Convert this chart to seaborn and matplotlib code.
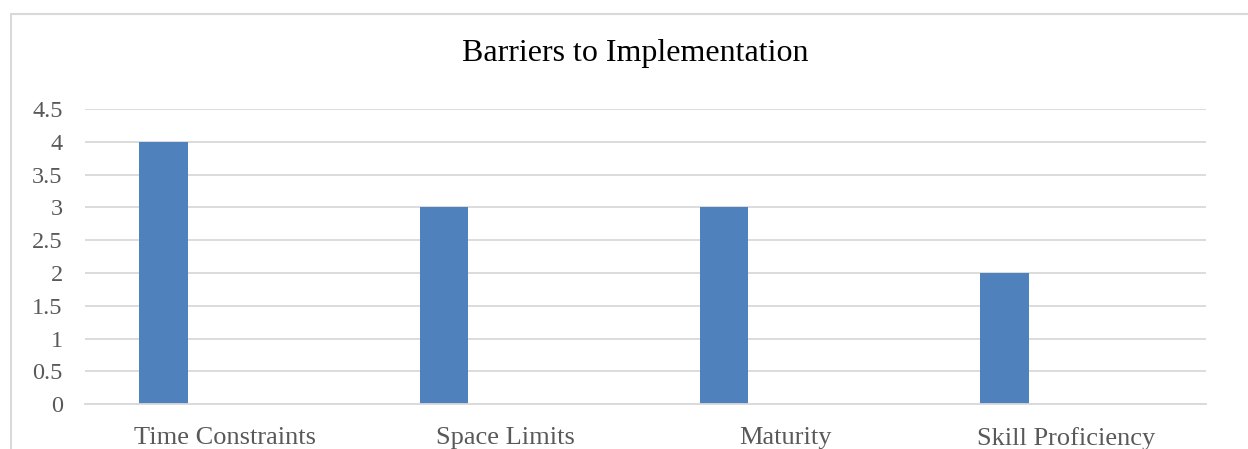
import matplotlib
matplotlib.use("Agg")
import matplotlib.pyplot as plt
from matplotlib.lines import Line2D
from matplotlib.ticker import MultipleLocator, FuncFormatter
import seaborn as sns
import pandas as pd

# Survey responses per barrier
categories = ["Time Constraints", "Space Limits", "Maturity", "Skill Proficiency"]
responses = [4, 3, 3, 2]

# Two unused series keep the bars in the left slot of each category
series_order = ["Responses", "Series 2", "Series 3"]

sns.set_theme(style="white")
plt.rcParams["font.family"] = ["Liberation Serif", "DejaVu Serif"]

df = pd.DataFrame({
    "category": categories,
    "value": responses,
    "series": [series_order[0]] * len(categories),
})

fig = plt.figure(figsize=(12.48, 4.49), dpi=100)
ax = fig.add_axes([85 / 1248, 44.7 / 449, 1121 / 1248, 295.3 / 449])

sns.barplot(
    data=df, x="category", y="value", hue="series",
    hue_order=series_order, order=categories,
    palette={s: "#4f81bd" for s in series_order},
    width=0.6585, gap=0.213, dodge=True, legend=False,
    linewidth=0, saturation=1, ax=ax,
)

ax.set_xlim(-0.5, len(categories) - 0.5)
ax.set_ylim(0, 4.5)
ax.yaxis.set_major_locator(MultipleLocator(0.5))
ax.yaxis.set_major_formatter(FuncFormatter(lambda v, _: f"{v:g}"))
ax.grid(axis="y", color="#d9d9d9", linewidth=1.3)
ax.set_axisbelow(True)
for side in ["top", "right", "left"]:
    ax.spines[side].set_visible(False)
ax.spines["bottom"].set_color("#d9d9d9")
ax.spines["bottom"].set_linewidth(1.3)

ax.set_xlabel("")
ax.set_ylabel("")
ax.tick_params(axis="y", length=0, pad=16, labelsize=17.5, labelcolor="#595959")
ax.tick_params(axis="x", length=0, pad=16, labelsize=19, labelcolor="#595959")

fig.text(635.5 / 1248, 1 - 53 / 449, "Barriers to Implementation",
         ha="center", va="center", fontsize=23, color="black")

# Chart frame (top and left edges)
frame = dict(color="#d9d9d9", linewidth=1.5, transform=fig.transFigure)
fig.add_artist(Line2D([11 / 1248, 1.0], [1 - 13.5 / 449] * 2, **frame))
fig.add_artist(Line2D([11 / 1248] * 2, [0.0, 1 - 13.5 / 449], **frame))

fig.savefig("out.png", dpi=100, facecolor="white")
